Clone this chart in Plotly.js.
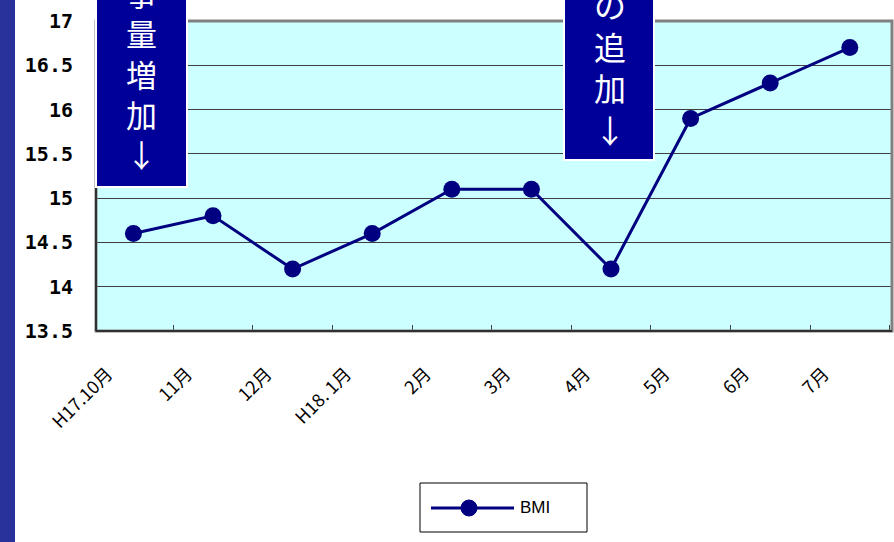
<!DOCTYPE html>
<html><head><meta charset="utf-8">
<script src="https://cdn.plot.ly/plotly-3.0.1.min.js"></script>
<style>html,body{margin:0;padding:0;background:#fff;}#chart{width:894px;height:542px;}</style>
</head><body><div id="chart"></div>
<script>
const categories = ["H17.10月","11月","12月","H18. 1月","2月","3月","4月","5月","6月","7月"];
const bmi = [14.6, 14.8, 14.2, 14.6, 15.1, 15.1, 14.2, 15.9, 16.3, 16.7];
const yTicks = [13.5, 14, 14.5, 15, 15.5, 16, 16.5, 17];
const yTickText = ["13.5","14","14.5","15","15.5","16","16.5","17"];
const seriesName = "BMI";
const box1Chars = ["事","量","増","加","↓"];
const box2Chars = ["の","追","加","↓"];

const W = 894, H = 542, L = 96, R = 2, T = 21, B = 211;
const pw = W - L - R, ph = H - T - B;
const px = x => (x - L) / pw;
const py = y => (H - B - y) / ph;

const shapes = [
  {type:'rect', xref:'paper', yref:'paper', x0:px(0), x1:px(15), y0:py(560), y1:py(-20), fillcolor:'#28329a', line:{width:0}, layer:'below'},
  {type:'rect', xref:'paper', yref:'paper', x0:0, x1:1, y0:0, y1:1, line:{color:'#808080', width:3}, fillcolor:'rgba(0,0,0,0)'},
  {type:'line', xref:'paper', yref:'paper', x0:0, x1:0, y0:0, y1:1, line:{color:'#303030', width:2}},
  {type:'line', xref:'paper', yref:'paper', x0:0, x1:1, y0:0, y1:0, line:{color:'#303030', width:2}},
  {type:'rect', xref:'paper', yref:'paper', x0:px(96), x1:px(187), y0:py(187), y1:py(-10), fillcolor:'#000099', line:{color:'#ffffff', width:2}},
  {type:'rect', xref:'paper', yref:'paper', x0:px(564), x1:px(654), y0:py(160), y1:py(-10), fillcolor:'#000099', line:{color:'#ffffff', width:2}},
  // legend box
  {type:'rect', xref:'paper', yref:'paper', x0:px(420), x1:px(587), y0:py(532), y1:py(483), fillcolor:'#ffffff', line:{color:'#000000', width:1}},
  {type:'line', xref:'paper', yref:'paper', x0:px(431), x1:px(514), y0:py(508), y1:py(508), line:{color:'#000080', width:3}},
  {type:'circle', xref:'paper', yref:'paper', x0:px(461), x1:px(477), y0:py(516), y1:py(500), fillcolor:'#000080', line:{color:'#000080', width:1}}
];

const annotations = [
  {xref:'paper', yref:'paper', x:px(141), y:py(73), text:box1Chars.join('<br>'), showarrow:false, xanchor:'center', yanchor:'middle', align:'center', font:{family:'Noto Sans CJK JP', size:31, color:'#ffffff'}},
  {xref:'paper', yref:'paper', x:px(610), y:py(66), text:box2Chars.join('<br>'), showarrow:false, xanchor:'center', yanchor:'middle', align:'center', font:{family:'Noto Sans CJK JP', size:32, color:'#ffffff'}},
  {xref:'paper', yref:'paper', x:px(518), y:py(508), text:seriesName, showarrow:false, xanchor:'left', yanchor:'middle', font:{family:'Liberation Sans, Arial', size:17, color:'#000000'}}
];

const trace = {
  x: categories, y: bmi, type:'scatter', mode:'lines+markers', name:seriesName,
  line:{color:'#000080', width:3}, marker:{color:'#000080', size:17}
};

const layout = {
  width:W, height:H, margin:{l:L, r:R, t:T, b:B},
  paper_bgcolor:'#ffffff', plot_bgcolor:'#ccffff',
  showlegend:false,
  xaxis:{type:'category', range:[-0.47, 9.53], tickson:'boundaries', ticks:'inside', ticklen:6, tickcolor:'#404040',
    showgrid:false, zeroline:false, showline:false, tickangle:-45,
    ticklabelstandoff:28, ticklabelshift:-26,
    tickfont:{family:'Noto Sans CJK JP', size:18, color:'#000000'}},
  yaxis:{range:[13.5,17], tickvals:yTicks, ticktext:yTickText, showgrid:true, gridcolor:'#404040', gridwidth:1,
    zeroline:false, showline:false, ticks:'', ticklabelstandoff:22,
    tickfont:{family:'DejaVu Sans Mono', size:20, color:'#000000', weight:'bold'}},
  shapes:shapes, annotations:annotations
};
Plotly.newPlot('chart',[trace],layout,{displayModeBar:false});
</script></body></html>
